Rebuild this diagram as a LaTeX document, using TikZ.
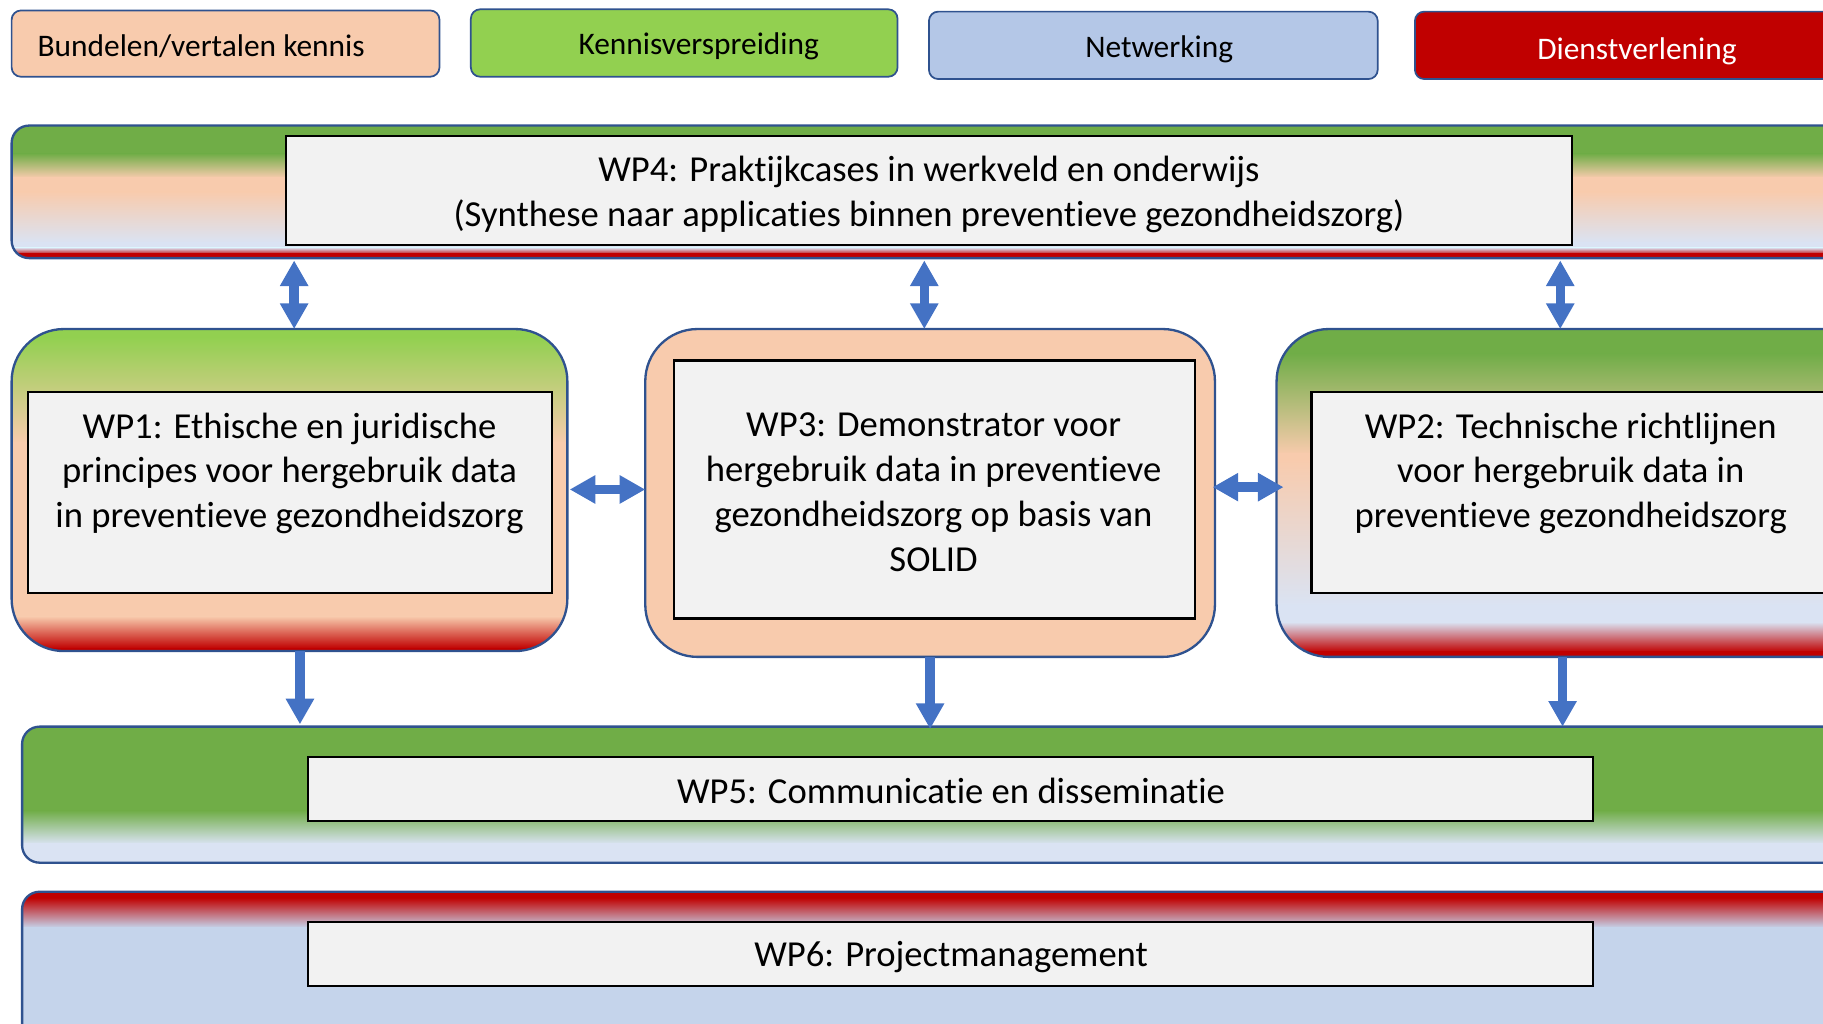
\documentclass[tikz,border=0pt]{standalone}
\usepackage{fontspec}
\setmainfont{Carlito}[Ligatures=NoCommon]
\usetikzlibrary{arrows.meta}
\definecolor{gA}{HTML}{70AD47}
\definecolor{gB}{HTML}{92D050}
\definecolor{pe}{HTML}{F8CBAD}
\definecolor{bg}{HTML}{DAE3F3}
\definecolor{bl}{HTML}{C5D4EB}
\definecolor{rd}{HTML}{C00000}
\definecolor{bd}{HTML}{2F528F}
\definecolor{ar}{HTML}{4472C4}
\definecolor{lg}{HTML}{F2F2F2}
\definecolor{lblue}{HTML}{B4C7E7}
\newcommand{\sband}[6]{\shade[top color=#5,bottom color=#6] (#1,#3) rectangle (#2,#4);}
\begin{document}
\begin{tikzpicture}[x=1pt,y=-1pt,
  legbox/.style={draw=bd, line width=1.5pt, rounded corners=8pt, inner sep=0pt},
  legtext/.style={font=\fontsize{27}{32}\selectfont, inner sep=0pt},
  border/.style={draw=bd, line width=2pt},
  inbox/.style={draw=black, line width=2pt, fill=lg, inner sep=0pt},
  wptext/.style={font=\fontsize{31.5}{38.5}\selectfont, align=center, inner sep=0pt},
  fatone/.style={draw=ar, line width=8pt, arrows={-Triangle[width=23pt,length=22pt]}},
  fattwo/.style={draw=ar, line width=8pt, arrows={Triangle[width=23pt,length=22pt]-Triangle[width=23pt,length=22pt]}},
]
\useasboundingbox (0,0) rectangle (1568,880);
\clip (0,0) rectangle (1568,880);

% Legend
\node[legbox, fill=pe, minimum width=368pt, minimum height=57pt] (leg1) at (194,37.5) {};
\node[legtext] (leg1t) at (173,39.5) {Bundelen/vertalen kennis};
\node[legbox, fill=gB, minimum width=367pt, minimum height=58pt] (leg2) at (588.5,37) {};
\node[legtext] (leg2t) at (601,40) {Kennisverspreiding};
\node[legbox, fill=lblue, minimum width=386pt, minimum height=58pt] (leg3) at (992,39) {};
\node[legtext] (leg3t) at (997,42) {Netwerking};
\node[legbox, fill=rd, minimum width=400pt, minimum height=58pt] (leg4) at (1417,39) {};
\node[legtext, text=white] (leg4t) at (1408,44) {Dienstverlening};

% WP4 band
\begin{scope}
\clip[rounded corners=15pt] (10,108) rectangle (1620,222);
\fill[gA] (0,100) rectangle (1620,133);
\sband{0}{1620}{132}{153}{gA}{pe}
\fill[pe] (0,152) rectangle (1620,166);
\sband{0}{1620}{165}{209}{pe}{bg}
\fill[bg] (0,208) rectangle (1620,214);
\sband{0}{1620}{213}{219}{bg}{rd}
\fill[rd] (0,218) rectangle (1620,230);
\end{scope}
\draw[border, rounded corners=15pt] (10,108) rectangle (1620,222);
\node[inbox, minimum width=1106pt, minimum height=94pt] (wp4box) at (799,164) {};
\node[wptext] (wp4) at (799,167.5) {WP4: Praktijkcases in werkveld en onderwijs\\(Synthese naar applicaties binnen preventieve gezondheidszorg)};

% WP1 outer
\begin{scope}
\clip[rounded corners=45pt] (10,283) rectangle (488,560);
\fill[gB] (0,280) rectangle (500,291);
\sband{0}{500}{290}{381}{gB}{pe}
\fill[pe] (0,380) rectangle (500,531);
\sband{0}{500}{530}{558}{pe}{rd}
\fill[rd] (0,557) rectangle (500,570);
\end{scope}
\draw[border, rounded corners=45pt] (10,283) rectangle (488,560);
\node[inbox, minimum width=451pt, minimum height=173pt] (wp1box) at (249.5,423.5) {};
\node[wptext] (wp1) at (249,407) {WP1: Ethische en juridische\\principes voor hergebruik data\\in preventieve gezondheidszorg};

% WP3 outer
\draw[border, fill=pe, rounded corners=45pt] (555,283) rectangle (1045,565);
\node[inbox, minimum width=448pt, minimum height=222pt] (wp3box) at (804,421) {};
\node[wptext] (wp3) at (803,423.5) {WP3: Demonstrator voor\\hergebruik data in preventieve\\gezondheidszorg op basis van\\SOLID};

% WP2 outer
\begin{scope}
\clip[rounded corners=45pt] (1098,283) rectangle (1620,565);
\fill[gA] (1090,280) rectangle (1630,305);
\sband{1090}{1630}{304}{391}{gA}{pe}
\fill[pe] (1090,390) rectangle (1630,396);
\sband{1090}{1630}{395}{521}{pe}{bg}
\fill[bg] (1090,520) rectangle (1630,536);
\sband{1090}{1630}{535}{561}{bg}{rd}
\fill[rd] (1090,560) rectangle (1630,570);
\end{scope}
\draw[border, rounded corners=45pt] (1098,283) rectangle (1620,565);
\node[inbox, minimum width=450pt, minimum height=173pt] (wp2box) at (1353,423.5) {};
\node[wptext] (wp2) at (1351,407) {WP2: Technische richtlijnen\\voor hergebruik data in\\preventieve gezondheidszorg};

% WP5 band
\begin{scope}
\clip[rounded corners=15pt] (19,625) rectangle (1620,742);
\fill[gA] (0,620) rectangle (1630,698);
\sband{0}{1630}{697}{726}{gA}{bg}
\fill[bg] (0,725) rectangle (1630,750);
\end{scope}
\draw[border, rounded corners=15pt] (19,625) rectangle (1620,742);
\node[inbox, minimum width=1105pt, minimum height=55pt] (wp5box) at (817.5,678.5) {};
\node[wptext] (wp5) at (818,680) {WP5: Communicatie en disseminatie};

% WP6 band
\begin{scope}
\clip[rounded corners=15pt] (19,767) rectangle (1620,920);
\fill[rd] (0,760) rectangle (1630,773);
\sband{0}{1630}{772}{798}{rd}{bl}
\fill[bl] (0,797) rectangle (1630,930);
\end{scope}
\draw[border, rounded corners=15pt] (19,767) rectangle (1620,920);
\node[inbox, minimum width=1105pt, minimum height=55pt] (wp6box) at (817.5,820.5) {};
\node[wptext] (wp6) at (818,823.5) {WP6: Projectmanagement};

% Connector end points
\coordinate (u1a) at (253,224); \coordinate (u1b) at (253,283);
\coordinate (u2a) at (795,224); \coordinate (u2b) at (795,283);
\coordinate (u3a) at (1342,224); \coordinate (u3b) at (1342,283);
\coordinate (h1a) at (490,421); \coordinate (h1b) at (555,421);
\coordinate (h2a) at (1043,419); \coordinate (h2b) at (1104,419);
\coordinate (d1a) at (258,560); \coordinate (d1b) at (258,623);
\coordinate (d2a) at (800,565); \coordinate (d2b) at (800,627);
\coordinate (d3a) at (1344,565); \coordinate (d3b) at (1344,625);

\draw[fattwo] (u1a) -- (u1b);
\draw[fattwo] (u2a) -- (u2b);
\draw[fattwo] (u3a) -- (u3b);
\draw[fattwo] (h1a) -- (h1b);
\draw[fattwo] (h2a) -- (h2b);
\draw[fatone] (d1a) -- (d1b);
\draw[fatone] (d2a) -- (d2b);
\draw[fatone] (d3a) -- (d3b);
\end{tikzpicture}
\end{document}
